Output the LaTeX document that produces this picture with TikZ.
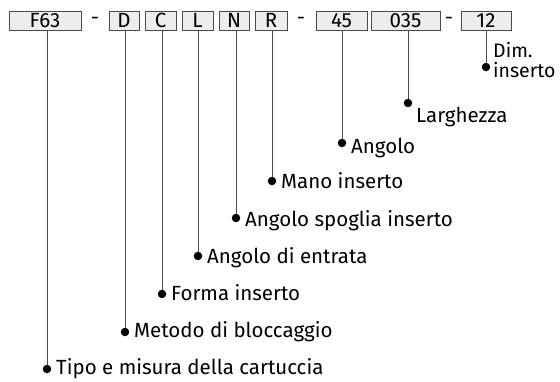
\documentclass[tikz,border=0pt]{standalone}
\usepackage{fontspec}
\setmainfont{Fira Sans}
\usetikzlibrary{positioning}
\definecolor{boxgray}{HTML}{EDEDED}
\definecolor{linegray}{HTML}{4A4A4A}

\begin{document}
\begin{tikzpicture}[
  x=1pt, y=-1pt,
  font=\fontsize{20.5}{19.5}\selectfont,
  code/.style={draw=linegray, fill=boxgray, line width=0.9pt, minimum height=19pt, inner sep=0pt},
  dot/.style={circle, fill=black, inner sep=0pt, minimum size=8.5pt},
  lead/.style={draw=linegray, line width=1pt},
  lbl/.style={inner sep=0pt, anchor=base west, align=left}
]
\useasboundingbox (0,0) rectangle (560,381);

% code boxes
\node[code, minimum width=72pt] (bF63) at (45,20.5) {F63};
\node (sep1) at (95,21) {-};
\node[code, minimum width=30pt] (bD) at (124,20.5) {D};
\node[code, minimum width=31pt] (bC) at (160.5,20.5) {C};
\node[code, minimum width=31pt] (bL) at (197.5,20.5) {L};
\node[code, minimum width=30pt] (bN) at (234,20.5) {N};
\node[code, minimum width=32pt] (bR) at (271,20.5) {R};
\node (sep2) at (301,21) {-};
\node[code, minimum width=51pt] (b45) at (341.5,20.5) {45};
\node[code, minimum width=69pt] (b035) at (405.5,20.5) {035};
\node (sep3) at (449,21) {-};
\node[code, minimum width=50pt] (b12) at (486,20.5) {12};

% dots
\node[dot] (dF63) at (47,369) {};
\node[dot] (dD) at (125,332) {};
\node[dot] (dC) at (162,294) {};
\node[dot] (dL) at (198,256) {};
\node[dot] (dN) at (236,218) {};
\node[dot] (dR) at (272,181) {};
\node[dot] (d45) at (342,143) {};
\node[dot] (d035) at (408,103) {};
\node[dot] (d12) at (486,67) {};

% labels
\node[lbl] (tF63) at (56,374.5) {Tipo e misura della cartuccia};
\node[lbl] (tD) at (134,337) {Metodo di bloccaggio};
\node[lbl] (tC) at (171,300) {Forma inserto};
\node[lbl] (tL) at (207,263) {Angolo di entrata};
\node[lbl] (tN) at (245,226.5) {Angolo spoglia inserto};
\node[lbl] (tR) at (281,188) {Mano inserto};
\node[lbl] (t45) at (351,153) {Angolo};
\node[lbl] (t035) at (416,122) {Larghezza};
\node[lbl, font=\fontsize{19.5}{19.5}\selectfont] (t12) at (493,77) {Dim.\\inserto};

% leaders
\draw[lead] (bF63.south -| dF63) -- (dF63);
\draw[lead] (bD.south -| dD) -- (dD);
\draw[lead] (bC.south -| dC) -- (dC);
\draw[lead] (bL.south -| dL) -- (dL);
\draw[lead] (bN.south -| dN) -- (dN);
\draw[lead] (bR.south -| dR) -- (dR);
\draw[lead] (b45.south -| d45) -- (d45);
\draw[lead] (b035.south -| d035) -- (d035);
\draw[lead] (b12.south -| d12) -- (d12);

\end{tikzpicture}
\end{document}
